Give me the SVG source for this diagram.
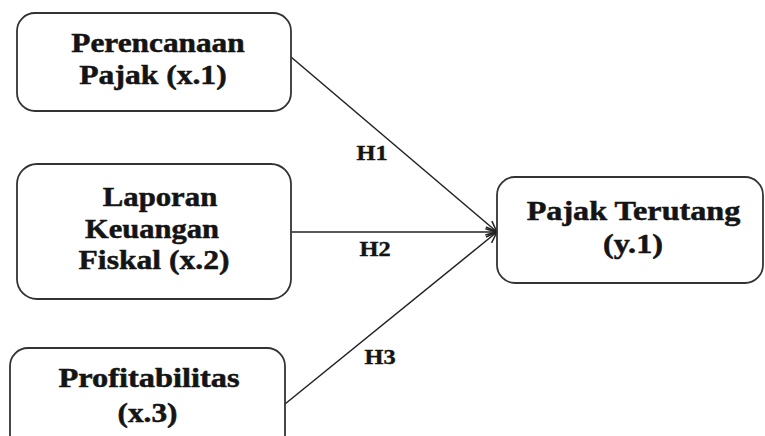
<svg xmlns="http://www.w3.org/2000/svg" width="765" height="436" viewBox="0 0 765 436">
<defs>
<marker id="arr" markerWidth="14" markerHeight="12" refX="12" refY="6" orient="auto" markerUnits="userSpaceOnUse">
<path d="M1,1 L12,6 L1,11" fill="none" stroke="#222" stroke-width="1.5"/>
</marker>
<style>
.box{fill:#fff;stroke:#333;stroke-width:1.8}
.t{font-family:"Liberation Serif","Times New Roman",serif;font-weight:bold;font-size:27px;fill:#141414;stroke:#141414;stroke-width:0.5;text-anchor:middle}
.h{font-family:"Liberation Serif","Times New Roman",serif;font-weight:bold;font-size:21px;fill:#141414;stroke:#141414;stroke-width:0.4;text-anchor:middle}
.c{stroke:#222;stroke-width:1.5;fill:none;marker-end:url(#arr)}
</style>
</defs>
<rect width="765" height="436" fill="#fff"/>
<g id="connectors">
<line class="c" x1="291" y1="57" x2="497" y2="232"/>
<line class="c" x1="291" y1="232" x2="497" y2="232"/>
<line class="c" x1="285" y1="404" x2="497" y2="232"/>
<text class="h" transform="matrix(1.16,0,0,1,372,160)">H1</text>
<text class="h" transform="matrix(1.16,0,0,1,375,256)">H2</text>
<text class="h" transform="matrix(1.16,0,0,1,380,364)">H3</text>
</g>
<g id="x1">
<rect class="box" x="17" y="13" width="274" height="98" rx="18"/>
<text class="t" transform="matrix(1.16,0,0,1,158,52)">Perencanaan</text>
<text class="t" transform="matrix(1.17,0,0,1,153,84)">Pajak (x.1)</text>
</g>
<g id="x2">
<rect class="box" x="17" y="164" width="274" height="135" rx="20"/>
<text class="t" transform="matrix(1.14,0,0,1,160,206)">Laporan</text>
<text class="t" transform="matrix(1.13,0,0,1,152,238)">Keuangan</text>
<text class="t" transform="matrix(1.17,0,0,1,154,269)">Fiskal (x.2)</text>
</g>
<g id="x3">
<rect class="box" x="10" y="348" width="275" height="110" rx="18"/>
<text class="t" transform="matrix(1.2,0,0,1,149,387)">Profitabilitas</text>
<text class="t" transform="matrix(1.16,0,0,1,147.5,422)">(x.3)</text>
</g>
<g id="y1">
<rect class="box" x="497" y="177" width="266" height="106" rx="18"/>
<text class="t" style="font-size:28px" transform="matrix(1.15,0,0,1,633.5,220)">Pajak Terutang</text>
<text class="t" style="font-size:28px" transform="matrix(1.15,0,0,1,633,253)">(y.1)</text>
</g>
</svg>
